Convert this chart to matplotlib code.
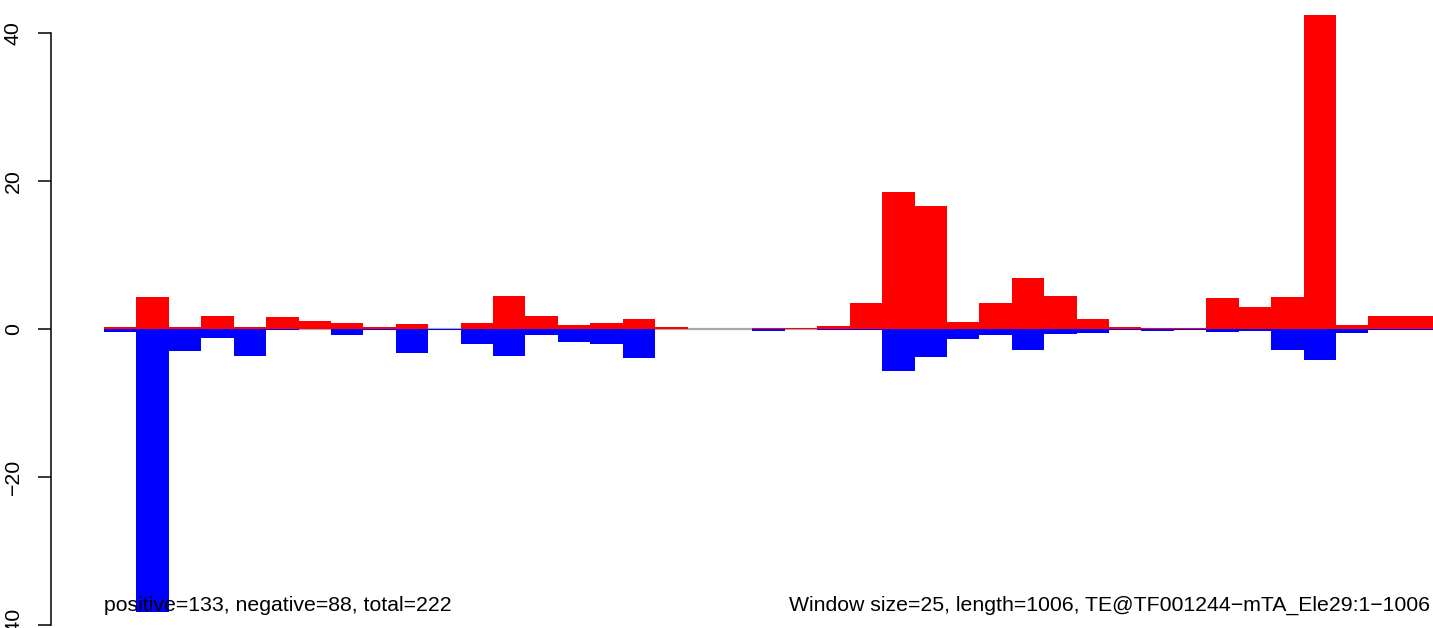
import matplotlib
matplotlib.use("Agg")
import matplotlib.pyplot as plt
import numpy as np

plt.rcParams['font.family'] = ['Liberation Sans', 'DejaVu Sans']

# Data (window size 25, 41 windows)
positive = [0.25, 4.34, 0.27, 1.77, 0.27, 1.64, 1.1, 0.82, 0.27, 0.69, 0, 0.82, 4.48,
            1.77, 0.55, 0.82, 1.37, 0.27, 0, 0, 0.1, 0.12, 0.42, 3.49, 18.5, 16.6,
            0.92, 3.49, 6.87, 4.43, 1.32, 0.24, 0.1, 0.1, 4.16, 2.95, 4.3, 42.4,
            0.51, 1.73, 1.73]
negative = [0.5, 38.3, 2.96, 1.2, 3.64, 0.16, 0, 0.84, 0.15, 3.23, 0.1, 2.0, 3.64,
            0.8, 1.74, 2.0, 3.91, 0, 0, 0, 0.3, 0, 0.15, 0.15, 5.67, 3.77,
            1.38, 0.8, 2.87, 0.66, 0.52, 0.13, 0.3, 0.13, 0.43, 0.3, 2.87, 4.22,
            0.57, 0.13, 0.13]
yticks = [-40, -20, 0, 20, 40]
left_label = "positive=133, negative=88, total=222"
right_label = "Window size=25, length=1006, TE@TF001244\u2212mTA_Ele29:1\u22121006"

W, H, DPI = 1433, 628, 100
fig = plt.figure(figsize=(W / DPI, H / DPI), dpi=DPI)
ax = fig.add_axes([0, 0, 1, 1])

n = len(positive)
x = np.arange(n)
ax.hlines(0, 0, n, color='#a9a9a9', lw=1.6, zorder=1)
ax.bar(x, positive, width=1.0, align='edge', color='#ff0000', linewidth=0, zorder=2)
ax.bar(x, -np.array(negative), width=1.0, align='edge', color='#0000ff', linewidth=0, zorder=2)

# pixel mapping: x px = 104 + 32.42*x ; y px = 328.8 - 7.395*y
xpx = 32.42
ypx = 7.395
ax.set_xlim((0 - 104) / xpx, (W - 104) / xpx)
ax.set_ylim((328.8 - H) / ypx, 328.8 / ypx)

for s in ['top', 'right', 'bottom']:
    ax.spines[s].set_visible(False)
ax.spines['left'].set_position(('data', (50.7 - 104) / xpx))
ax.spines['left'].set_bounds(-40, 40)
ax.spines['left'].set_linewidth(1.1)
ax.set_xticks([])
ax.set_yticks(yticks)
ax.set_yticklabels([str(v).replace('-', '\u2212') for v in yticks])
ax.tick_params(axis='y', direction='out', length=9.6, width=1.1, pad=10.5,
               labelsize=15.3, labelrotation=90)
for lab in ax.get_yticklabels():
    lab.set_va('center')
    lab.set_ha('right')
ax.patch.set_visible(False)

ax.text(0, -37.45, left_label, ha='left', va='center', fontsize=15.3, zorder=5)
ax.text(40.9, -37.45, right_label, ha='right', va='center', fontsize=15.3, zorder=5)

fig.savefig('out.png', dpi=DPI)
